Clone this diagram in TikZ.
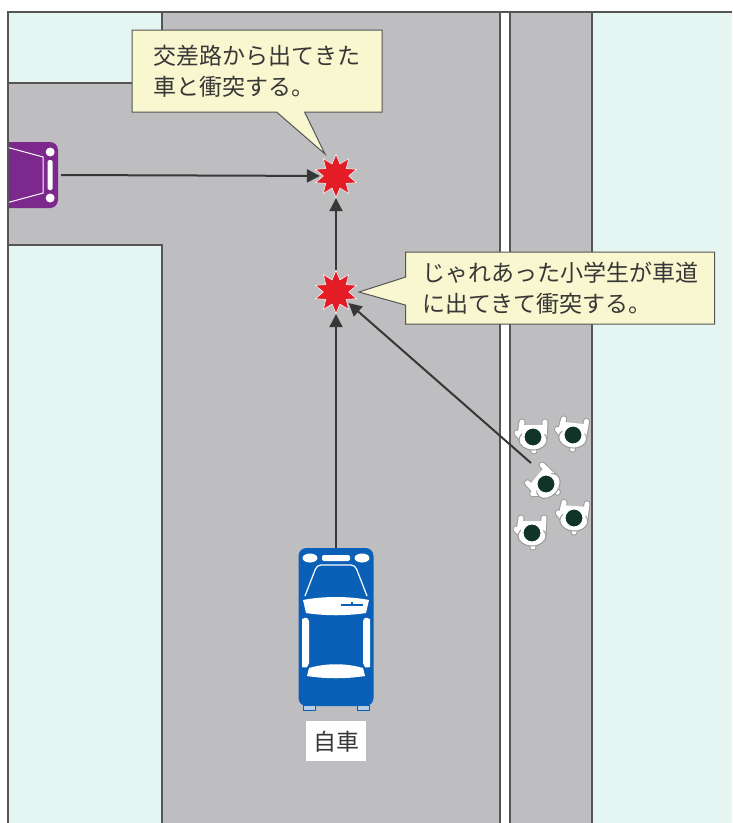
\documentclass[tikz,border=0pt]{standalone}
\usepackage{fontspec}
\newfontfamily\jp{Noto Sans CJK JP}
\usetikzlibrary{shapes.geometric, shapes.callouts, arrows.meta, positioning}

\definecolor{road}{RGB}{190,190,193}
\definecolor{lawn}{RGB}{229,246,242}
\definecolor{edge}{RGB}{85,85,85}
\definecolor{note}{RGB}{248,247,207}
\definecolor{ink}{RGB}{55,55,55}
\definecolor{crashred}{RGB}{228,28,38}
\definecolor{mine}{RGB}{10,96,182}
\definecolor{other}{RGB}{124,40,140}
\definecolor{kidhead}{RGB}{16,52,38}

\tikzset{
        edgeline/.style={draw=edge, line width=1.5pt},
        crash/.style={star, star points=10, star point ratio=1.7, minimum size=43pt, inner sep=0pt, fill=crashred, draw=white, line width=0.5pt},
        mov/.style={draw=ink, line width=2pt, -{Triangle[length=13pt, width=13pt]}},
        note/.style={rectangle callout, fill=note, draw=edge, line width=1pt, text=ink, align=left, inner sep=0pt,
          font=\jp\fontsize{23}{31}\selectfont, callout pointer width=28pt},
        carbody/.style={rounded corners=8pt, inner sep=0pt},
        carglass/.style={fill=white},
        kidarm/.style={draw=gray!80, double=white, double distance=5pt, line width=1pt, line cap=round},
        kid/.pic={
          \draw[kidarm] (-11,1) -- (-16,-4) (-13,-1) -- (-11,-15);
          \draw[kidarm] (11,1) -- (12,-15);
          \draw[kidarm] (0,4) -- (1,14);
          \filldraw[fill=white, draw=gray!80, line width=1pt] (0,3) ellipse (14 and 10);
          \fill[white] (-11,1) -- (-11,-12) -- (12,-12) -- (11,1) -- (1,12) -- cycle;
          \filldraw[fill=kidhead, draw=white, line width=1pt] (0,0) circle (9);
        }
          }

\begin{document}
\begin{tikzpicture}[x=1pt, y=-1pt]
        \useasboundingbox (0,0) rectangle (732,823);
        % street and blocks
        \fill[road] (8,12) rectangle (732,823);
        \fill[lawn] (8,12) rectangle (162,83);
        \fill[lawn] (8,245) rectangle (162,823);
        \fill[lawn] (592,12) rectangle (732,823);
        \fill[white] (500,12) rectangle (510,823);
        \draw[edgeline] (8,83) -- (162,83) -- (162,12);
        \draw[edgeline] (8,245) -- (162,245) -- (162,823);
        \draw[edgeline] (500,12) -- (500,823);
        \draw[edgeline] (510,12) -- (510,823);
        \draw[edgeline] (592,12) -- (592,823);
        \draw[edgeline] (732,12) -- (8,12) -- (8,823);

        % car coming out of the side street
        \begin{scope}
          \clip (9,12) rectangle (732,823);
          \node[carbody, fill=other, minimum width=80pt, minimum height=66pt] (othercar) at (18,175) {};
          \begin{scope}[shift={(othercar.east)}]
            \draw[white, line width=1pt] (-52,-28) -- (-15,-18) -- (-15,18) -- (-52,28);
            \fill[white] (-8,-23) circle (4.5);
            \fill[white] (-8,23) circle (4.5);
            \fill[white, rounded corners=1.5pt] (-10.5,-15) rectangle (-5.5,15);
          \end{scope}
        \end{scope}

        % own car
        \node[carbody, fill=mine, minimum width=75pt, minimum height=158pt] (mycar) at (336,627) {};
        \begin{scope}[shift={(mycar.center)}]
          \fill[white] (-26,-69) ellipse (7.5 and 4.5);
          \fill[white] (26,-69) ellipse (7.5 and 4.5);
          \fill[white, rounded corners=2pt] (-14,-72) rectangle (14,-66);
          \draw[white, line width=1.2pt, rounded corners=4pt] (-31,-31) -- (-19,-62) -- (19,-62) -- (31,-31);
          \fill[carglass] (-33,-27) .. controls (-12,-31) and (12,-31) .. (33,-27)
            -- (30,-14) .. controls (10,-11) and (-10,-11) .. (-30,-14) -- cycle;
          \draw[mine, line width=1.5pt] (5,-22) -- (27,-22) (16,-25) -- (16,-22);
          \fill[carglass] (-34,-8) .. controls (-29,-10) .. (-27,-6) -- (-27,36) .. controls (-29,41) .. (-34,40) -- cycle;
          \fill[carglass] (34,-8) .. controls (29,-10) .. (27,-6) -- (27,36) .. controls (29,41) .. (34,40) -- cycle;
          \fill[carglass] (-27,41) .. controls (-10,36) and (10,36) .. (27,41)
            -- (29,49) .. controls (10,52) and (-10,52) .. (-29,49) -- cycle;
          \filldraw[fill=mine!30, draw=mine, line width=0.8pt] (-33,78) rectangle (-21,83);
          \filldraw[fill=mine!30, draw=mine, line width=0.8pt] (21,78) rectangle (33,83);
        \end{scope}
        \node[below=15pt of mycar, fill=white, text=ink, font=\jp\fontsize{23}{28}\selectfont,
          minimum height=40pt, inner xsep=7pt] (mylabel) {自車};

        % children on the sidewalk
        \pic at (533,437) {kid};
        \pic[rotate=-6] at (573,435) {kid};
        \pic[rotate=50] at (546,484) {kid};
        \pic at (532,533) {kid};
        \pic[rotate=-4] at (574,518) {kid};
        \coordinate (kids) at (531,463);

        % collision points
        \node[crash] (crashA) at (336,176) {};
        \node[crash] (crashB) at (336,292) {};

        \draw[mov, shorten >=3pt] (othercar.east) ++(3,0) -- (crashA);
        \draw[mov] (crashB) -- (crashA);
        \draw[mov] (mycar) -- (crashB);
        \draw[mov, shorten >=2pt] (kids) -- (crashB);

        % warnings
        \node[note, minimum width=250pt, minimum height=82pt,
          callout absolute pointer={([xshift=-11pt, yshift=22pt]crashA.center)}] (warnA) at (257,71)
          {交差路から出てきた\\車と衝突する。};
        \node[note, minimum width=309pt, minimum height=72pt,
          callout absolute pointer={([xshift=23pt]crashB.center)}] (warnB) at (560,288)
          {じゃれあった小学生が車道\\に出てきて衝突する。};
\end{tikzpicture}
\end{document}
